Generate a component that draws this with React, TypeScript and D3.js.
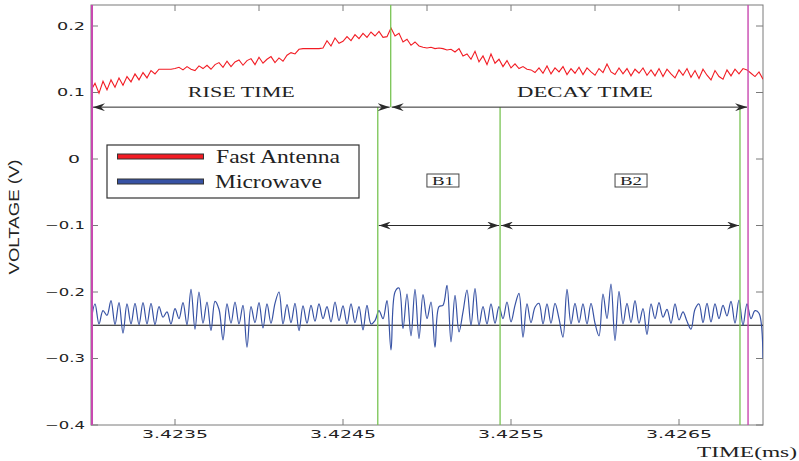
import React from "react";
import * as d3 from "d3";

const WIDTH = 799;
const HEIGHT = 461;
const margin = { top: 5, right: 36, bottom: 36, left: 91 };

// both traces are sampled on the same clock (ms)
const T_START = 3.423;
const T_STEP = 0.004 / 168;

// volts
const fastAntenna = [
  0.103, 0.114, 0.099, 0.117, 0.104, 0.119, 0.108, 0.122, 0.111, 0.124,
  0.116, 0.128, 0.119, 0.130, 0.122, 0.133, 0.128, 0.135, 0.135, 0.135,
  0.135, 0.136, 0.138, 0.134, 0.139, 0.135, 0.133, 0.140, 0.136, 0.141,
  0.135, 0.142, 0.145, 0.138, 0.147, 0.139, 0.146, 0.149, 0.141, 0.148,
  0.151, 0.142, 0.153, 0.144, 0.150, 0.154, 0.145, 0.152, 0.147, 0.156,
  0.160, 0.158, 0.165, 0.166, 0.166, 0.166, 0.166, 0.166, 0.167, 0.178,
  0.170, 0.182, 0.174, 0.177, 0.184, 0.178, 0.187, 0.181, 0.189, 0.183,
  0.191, 0.185, 0.192, 0.183, 0.184, 0.197, 0.185, 0.189, 0.176, 0.180,
  0.171, 0.176, 0.170, 0.168, 0.167, 0.168, 0.166, 0.167, 0.166, 0.164,
  0.165, 0.161, 0.166, 0.155, 0.158, 0.150, 0.162, 0.146, 0.155, 0.142,
  0.158, 0.144, 0.150, 0.139, 0.148, 0.137, 0.143, 0.136, 0.139, 0.135,
  0.134, 0.130, 0.137, 0.129, 0.140, 0.128, 0.137, 0.131, 0.139, 0.127,
  0.136, 0.129, 0.138, 0.127, 0.137, 0.131, 0.126, 0.136, 0.130, 0.143,
  0.131, 0.127, 0.137, 0.128, 0.136, 0.125, 0.135, 0.129, 0.137, 0.126,
  0.134, 0.125, 0.136, 0.124, 0.135, 0.128, 0.122, 0.134, 0.126, 0.136,
  0.123, 0.133, 0.121, 0.135, 0.126, 0.119, 0.133, 0.124, 0.120, 0.134,
  0.125, 0.135, 0.128, 0.136, 0.134, 0.129, 0.124, 0.131, 0.120,
];

const microwave = [
  -0.245, -0.218, -0.248, -0.228, -0.235, -0.213, -0.249, -0.216, -0.262, -0.218,
  -0.248, -0.217, -0.249, -0.216, -0.248, -0.217, -0.249, -0.222, -0.238, -0.230,
  -0.248, -0.225, -0.240, -0.216, -0.249, -0.196, -0.256, -0.200, -0.247, -0.215,
  -0.258, -0.214, -0.226, -0.272, -0.218, -0.247, -0.215, -0.248, -0.220, -0.283,
  -0.222, -0.246, -0.216, -0.254, -0.218, -0.247, -0.217, -0.200, -0.248, -0.219,
  -0.246, -0.217, -0.258, -0.221, -0.247, -0.220, -0.244, -0.218, -0.240, -0.222,
  -0.245, -0.215, -0.243, -0.221, -0.248, -0.218, -0.246, -0.222, -0.257, -0.220,
  -0.248, -0.243, -0.228, -0.240, -0.213, -0.287, -0.200, -0.194, -0.255, -0.203,
  -0.266, -0.196, -0.270, -0.204, -0.240, -0.215, -0.283, -0.222, -0.220, -0.190,
  -0.275, -0.205, -0.260, -0.230, -0.197, -0.250, -0.195, -0.250, -0.222, -0.248,
  -0.218, -0.247, -0.222, -0.240, -0.215, -0.245, -0.220, -0.202, -0.268, -0.218,
  -0.246, -0.223, -0.217, -0.248, -0.218, -0.247, -0.217, -0.240, -0.268, -0.196,
  -0.248, -0.217, -0.246, -0.218, -0.248, -0.217, -0.247, -0.266, -0.203, -0.240,
  -0.188, -0.273, -0.199, -0.248, -0.217, -0.246, -0.213, -0.247, -0.225, -0.264,
  -0.218, -0.240, -0.216, -0.238, -0.226, -0.247, -0.218, -0.242, -0.230, -0.244,
  -0.256, -0.226, -0.218, -0.246, -0.217, -0.245, -0.218, -0.240, -0.220, -0.236,
  -0.214, -0.247, -0.212, -0.250, -0.218, -0.240, -0.228, -0.232, -0.300,
];

const xTicks = [3.4235, 3.4245, 3.4255, 3.4265];
const xTickLabels = ["3.4235", "3.4245", "3.4255", "3.4265"];
const xTopTicks = [3.4235, 3.424, 3.4245, 3.425, 3.4255, 3.426, 3.4265];
const yTicks = [0.2, 0.1, 0, -0.1, -0.2, -0.3, -0.4];
const yTickLabels = ["0.2", "0.1", "0", "\u22120.1", "\u22120.2", "\u22120.3", "\u22120.4"];

// event markers (ms / V)
const flashStart = 3.423006;
const flashEnd = 3.426911;
const peakTime = 3.424784;
const bStart = 3.424707;
const bMid = 3.425435;
const bEnd = 3.426863;
const baselineLevel = -0.25;
const riseArrowLevel = 0.078;
const bArrowLevel = -0.1;

const AXIS = "#7a7a7a";
const GREEN = "#79c453";
const MAGENTA = "#c848b0";
const RED = "#f21c24";
const BLUE = "#3752a4";
const INK = "#2a2a2a";

export default function App() {
  const innerW = WIDTH - margin.left - margin.right;
  const innerH = HEIGHT - margin.top - margin.bottom;

  const x = d3.scaleLinear().domain([3.423, 3.427]).range([margin.left, margin.left + innerW]);
  const y = d3.scaleLinear().domain([-0.4, 0.2316]).range([margin.top + innerH, margin.top]);

  const top = margin.top;
  const bottom = margin.top + innerH;
  const left = margin.left;
  const right = margin.left + innerW;

  const redLine = d3
    .line<number>()
    .x((d, i) => x(T_START + i * T_STEP))
    .y((d) => y(d));

  const blueLine = d3
    .line<number>()
    .x((d, i) => x(T_START + i * T_STEP))
    .y((d) => y(d))
    .curve(d3.curveCatmullRom);

  const tickFont = { fontFamily: "DejaVu Sans", fontSize: 10, fill: "#222" };
  const serif = { fontFamily: "Liberation Serif", fill: "#222" };

  return (
    <svg width={WIDTH} height={HEIGHT} style={{ position: "absolute", left: 0, top: 0, background: "#fff" }}>
      <defs>
        <clipPath id="plotArea">
          <rect x={left} y={top} width={innerW} height={innerH} />
        </clipPath>
        <marker id="arrowHead" viewBox="0 0 12 8" refX="12" refY="4" markerWidth="12" markerHeight="8"
          markerUnits="userSpaceOnUse" orient="auto-start-reverse">
          <path d="M0,0 L12,4 L0,8 L4,4 Z" fill={INK} />
        </marker>
      </defs>

      {/* frame */}
      <rect x={left} y={top} width={innerW} height={innerH} fill="none" stroke={AXIS} strokeWidth={1} />

      {/* ticks, inward */}
      {xTicks.map((t) => (
        <line key={"xb" + t} x1={x(t)} x2={x(t)} y1={bottom} y2={bottom - 6} stroke={AXIS} />
      ))}
      {xTopTicks.map((t) => (
        <line key={"xt" + t} x1={x(t)} x2={x(t)} y1={top} y2={top + 6} stroke={AXIS} />
      ))}
      {yTicks.map((v) => (
        <g key={"y" + v}>
          <line x1={left} x2={left + 7} y1={y(v)} y2={y(v)} stroke={AXIS} />
          <line x1={right} x2={right - 7} y1={y(v)} y2={y(v)} stroke={AXIS} />
        </g>
      ))}

      {/* tick labels */}
      {xTicks.map((t, i) => (
        <text key={"xl" + t} x={x(t)} y={bottom + 13} textAnchor="middle" textLength={66}
          lengthAdjust="spacingAndGlyphs" {...tickFont} fontSize={11}>
          {xTickLabels[i]}
        </text>
      ))}
      {yTicks.map((v, i) => {
        const label = yTickLabels[i];
        const w = label.length === 1 ? 12 : label.length === 3 ? 28 : 40;
        return (
          <text key={"yl" + v} x={label.length === 1 ? 80 : 85} y={y(v) + 3.5} textAnchor="end" textLength={w}
            lengthAdjust="spacingAndGlyphs" {...tickFont}>
            {label}
          </text>
        );
      })}

      {/* axis titles */}
      <text x={797} y={457} textAnchor="end" textLength={100} lengthAdjust="spacingAndGlyphs" fontSize={15} {...serif}>
        TIME(ms)
      </text>
      <text transform={`translate(19, ${217}) rotate(-90)`} textAnchor="middle" textLength={115}
        lengthAdjust="spacingAndGlyphs" fontFamily="Liberation Sans" fontSize={15} fill="#222">
        VOLTAGE (V)
      </text>

      {/* traces */}
      <g clipPath="url(#plotArea)">
        <line x1={left} x2={right} y1={y(baselineLevel)} y2={y(baselineLevel)} stroke="#111" strokeWidth={1.2} />
        <path d={blueLine(microwave) || ""} fill="none" stroke={BLUE} strokeWidth={1.2} />
        <path d={redLine(fastAntenna) || ""} fill="none" stroke={RED} strokeWidth={1.1} />
      </g>

      {/* event markers */}
      <line x1={x(flashStart)} x2={x(flashStart)} y1={top} y2={bottom} stroke={MAGENTA} strokeWidth={2} />
      <line x1={x(flashEnd)} x2={x(flashEnd)} y1={top} y2={bottom} stroke={MAGENTA} strokeWidth={1.4} />
      <line x1={x(peakTime)} x2={x(peakTime)} y1={top} y2={y(riseArrowLevel)} stroke={GREEN} strokeWidth={1.3} />
      {[bStart, bMid, bEnd].map((t) => (
        <line key={"g" + t} x1={x(t)} x2={x(t)} y1={y(riseArrowLevel)} y2={bottom} stroke={GREEN} strokeWidth={1.3} />
      ))}

      {/* interval arrows */}
      {[
        [flashStart, peakTime, riseArrowLevel],
        [peakTime, flashEnd, riseArrowLevel],
        [bStart, bMid, bArrowLevel],
        [bMid, bEnd, bArrowLevel],
      ].map(([a, b, v], i) => (
        <line key={"arr" + i} x1={x(a) + 1} x2={x(b) - 1} y1={y(v)} y2={y(v)} stroke={INK} strokeWidth={1}
          markerStart="url(#arrowHead)" markerEnd="url(#arrowHead)" />
      ))}

      <text x={(x(flashStart) + x(peakTime)) / 2} y={97} textAnchor="middle" textLength={107}
        lengthAdjust="spacingAndGlyphs" fontSize={14} {...serif}>
        RISE TIME
      </text>
      <text x={585} y={97} textAnchor="middle" textLength={136} lengthAdjust="spacingAndGlyphs" fontSize={14} {...serif}>
        DECAY TIME
      </text>

      {[
        ["B1", (x(bStart) + x(bMid)) / 2 + 4],
        ["B2", (x(bMid) + x(bEnd)) / 2 + 11],
      ].map(([label, cx]) => (
        <g key={label as string}>
          <rect x={(cx as number) - 16} y={174} width={32} height={13} fill="#fff" stroke="#444" strokeWidth={1} />
          <text x={cx as number} y={185} textAnchor="middle" textLength={22} lengthAdjust="spacingAndGlyphs"
            fontSize={12} {...serif}>
            {label}
          </text>
        </g>
      ))}

      {/* legend */}
      <g>
        <rect x={107} y={145} width={252} height={53} fill="#fff" stroke="#333" strokeWidth={1.2} />
        <rect x={117.5} y={154} width={86} height={5} fill={RED} stroke="#333" strokeWidth={1} />
        <rect x={117.5} y={179} width={86} height={5} fill={BLUE} stroke="#333" strokeWidth={1} />
        <text x={216} y={163} textLength={124} lengthAdjust="spacingAndGlyphs" fontSize={18} {...serif}>
          Fast Antenna
        </text>
        <text x={215} y={188} textLength={107} lengthAdjust="spacingAndGlyphs" fontSize={18} {...serif}>
          Microwave
        </text>
      </g>
    </svg>
  );
}
